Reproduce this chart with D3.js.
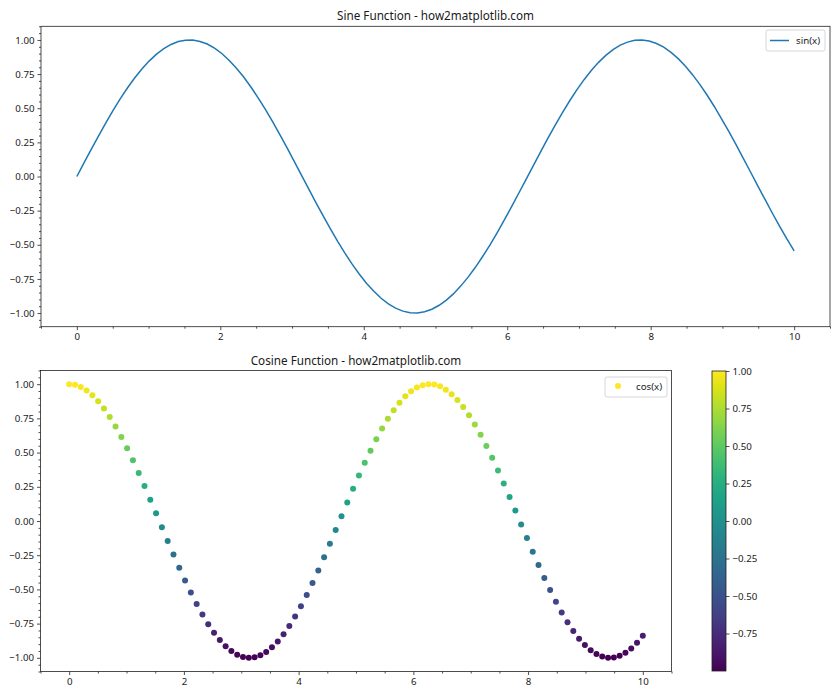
<!DOCTYPE html>
<html><head><meta charset="utf-8">
<script src="https://cdn.jsdelivr.net/npm/d3@7"></script>
<style>body{margin:0;background:#fff}svg{display:block}text{font-family:"Noto Sans","Open Sans",sans-serif;fill:#1a1a1a}</style>
</head><body><svg id="c" width="840" height="700"></svg>
<script>
const xValues = [0,0.101,0.202,0.303,0.404,0.505,0.606,0.707,0.808,0.909,1.010,1.111,1.212,1.313,1.414,1.515,1.616,1.717,1.818,1.919,2.020,2.121,2.222,2.323,2.424,2.525,2.626,2.727,2.828,2.929,3.030,3.131,3.232,3.333,3.434,3.535,3.636,3.737,3.838,3.939,4.040,4.141,4.242,4.343,4.444,4.545,4.646,4.747,4.848,4.949,5.051,5.152,5.253,5.354,5.455,5.556,5.657,5.758,5.859,5.960,6.061,6.162,6.263,6.364,6.465,6.566,6.667,6.768,6.869,6.970,7.071,7.172,7.273,7.374,7.475,7.576,7.677,7.778,7.879,7.980,8.081,8.182,8.283,8.384,8.485,8.586,8.687,8.788,8.889,8.990,9.091,9.192,9.293,9.394,9.495,9.596,9.697,9.798,9.899,10.0];
const sinValues = [0.000,0.101,0.201,0.298,0.393,0.484,0.570,0.650,0.723,0.789,0.847,0.896,0.936,0.967,0.988,0.998,0.999,0.989,0.970,0.940,0.901,0.852,0.795,0.730,0.657,0.578,0.493,0.403,0.308,0.211,0.111,0.010,-0.091,-0.191,-0.289,-0.384,-0.475,-0.561,-0.642,-0.716,-0.783,-0.841,-0.892,-0.933,-0.964,-0.986,-0.998,-0.999,-0.991,-0.972,-0.943,-0.905,-0.858,-0.801,-0.737,-0.665,-0.586,-0.502,-0.412,-0.318,-0.221,-0.121,-0.021,0.080,0.180,0.279,0.374,0.466,0.553,0.634,0.709,0.776,0.836,0.887,0.929,0.962,0.984,0.997,1.000,0.992,0.974,0.947,0.909,0.863,0.808,0.744,0.673,0.595,0.511,0.421,0.328,0.231,0.131,0.031,-0.070,-0.170,-0.269,-0.365,-0.457,-0.544];
const cosValues = [1.000,0.995,0.980,0.954,0.919,0.875,0.822,0.760,0.691,0.614,0.532,0.444,0.351,0.255,0.156,0.056,-0.045,-0.146,-0.245,-0.341,-0.434,-0.523,-0.606,-0.683,-0.754,-0.816,-0.870,-0.915,-0.951,-0.978,-0.994,-0.9999,-0.996,-0.982,-0.957,-0.923,-0.880,-0.828,-0.767,-0.698,-0.623,-0.540,-0.453,-0.361,-0.265,-0.166,-0.066,0.035,0.136,0.235,0.332,0.425,0.514,0.598,0.676,0.747,0.810,0.865,0.911,0.948,0.975,0.993,0.9998,0.997,0.984,0.960,0.927,0.885,0.833,0.773,0.706,0.631,0.549,0.462,0.370,0.275,0.176,0.076,-0.025,-0.125,-0.225,-0.322,-0.416,-0.505,-0.590,-0.668,-0.740,-0.804,-0.860,-0.907,-0.945,-0.973,-0.991,-0.9995,-0.998,-0.985,-0.963,-0.931,-0.890,-0.839];
const xTicks = [0,2,4,6,8,10];
const yTicks = [-1.00,-0.75,-0.50,-0.25,0.00,0.25,0.50,0.75,1.00];
const cbTicks = [-1.00,-0.75,-0.50,-0.25,0.00,0.25,0.50,0.75,1.00];
const titles = ["Sine Function - how2matplotlib.com","Cosine Function - how2matplotlib.com"];
const legendLabels = ["sin(x)","cos(x)"];

const svg = d3.select("#c");
const FS = 9.7;
const fmt = d3.format(".2f");
const fmtY = v => fmt(v).replace("-", "-");

function drawAxes(box, title){
  const x = d3.scaleLinear().domain([-0.5,10.5]).range([box.l, box.r]);
  const y = d3.scaleLinear().domain([-1.1,1.1]).range([box.b, box.t]);
  const g = svg.append("g");
  // x axis
  const xa = g.append("g").attr("transform",`translate(0,${box.b})`)
    .call(d3.axisBottom(x).tickValues(xTicks).tickFormat(d3.format("d")).tickSizeInner(3.5).tickSizeOuter(0).tickPadding(3));
  const xm = g.append("g").attr("transform",`translate(0,${box.b})`)
    .call(d3.axisBottom(x).tickValues(d3.range(-0.5,10.51,0.5).filter(v=>Math.abs(v%2)>1e-6)).tickFormat("").tickSizeInner(2).tickSizeOuter(0));
  const ya = g.append("g").attr("transform",`translate(${box.l},0)`)
    .call(d3.axisLeft(y).tickValues(yTicks).tickFormat(fmtY).tickSizeInner(3.5).tickSizeOuter(0).tickPadding(3));
  const ym = g.append("g").attr("transform",`translate(${box.l},0)`)
    .call(d3.axisLeft(y).tickValues(d3.range(-1.1,1.1001,0.05).filter(v=>Math.abs(Math.round(v*100)%25)!==0)).tickFormat("").tickSizeInner(2).tickSizeOuter(0));
  [xa,xm,ya,ym].forEach(a=>{a.select(".domain").remove();a.selectAll("line").attr("stroke","#222").attr("stroke-width",0.8);
    a.selectAll("text").attr("font-size",FS).attr("fill","#1a1a1a").style("font-family","'Noto Sans','Open Sans',sans-serif");});
  g.append("rect").attr("x",box.l).attr("y",box.t).attr("width",box.r-box.l).attr("height",box.b-box.t)
    .attr("fill","none").attr("stroke","#222").attr("stroke-width",0.8);
  g.append("text").attr("x",(box.l+box.r)/2).attr("y",box.t-6).attr("text-anchor","middle").attr("font-size",11.7).text(title);
  return {x,y,g};
}

// top
const A = drawAxes({l:41,r:830,t:26.3,b:326.7}, titles[0]);
const pts = xValues.map((v,i)=>[v,sinValues[i]]);
svg.append("path").datum(pts).attr("fill","none").attr("stroke","#1f77b4").attr("stroke-width",1.5)
  .attr("d", d3.line().x(d=>A.x(d[0])).y(d=>A.y(d[1])));
// legend top
const lg1 = svg.append("g");
lg1.append("rect").attr("x",766).attr("y",30).attr("width",59).attr("height",21).attr("rx",2)
  .attr("fill","#fff").attr("fill-opacity",0.8).attr("stroke","#ccc").attr("stroke-width",0.8);
lg1.append("line").attr("x1",770).attr("x2",789).attr("y1",40.5).attr("y2",40.5).attr("stroke","#1f77b4").attr("stroke-width",1.5);
lg1.append("text").attr("x",796).attr("y",44).attr("font-size",FS).text(legendLabels[0]);

// bottom
const B = drawAxes({l:40.5,r:671.5,t:370.5,b:671.5}, titles[1]);
const ext = d3.extent(cosValues);
const color = d3.scaleSequential(d3.interpolateViridis).domain(ext);
svg.append("g").selectAll("circle").data(xValues.map((v,i)=>[v,cosValues[i]])).join("circle")
  .attr("cx",d=>B.x(d[0])).attr("cy",d=>B.y(d[1])).attr("r",3).attr("fill",d=>color(d[1]));
const lg2 = svg.append("g");
lg2.append("rect").attr("x",605).attr("y",377).attr("width",62).attr("height",20).attr("rx",2)
  .attr("fill","#fff").attr("fill-opacity",0.8).attr("stroke","#ccc").attr("stroke-width",0.8);
lg2.append("circle").attr("cx",618).attr("cy",386).attr("r",3).attr("fill",color(ext[1]));
lg2.append("text").attr("x",636).attr("y",390).attr("font-size",FS).text(legendLabels[1]);

// colorbar
const cb = {l:712,r:726,t:371,b:671};
const defs = svg.append("defs");
const grad = defs.append("linearGradient").attr("id","vir").attr("x1",0).attr("y1",1).attr("x2",0).attr("y2",0);
d3.range(0,1.0001,0.02).forEach(t=>grad.append("stop").attr("offset",t).attr("stop-color",d3.interpolateViridis(t)));
svg.append("rect").attr("x",cb.l).attr("y",cb.t).attr("width",cb.r-cb.l).attr("height",cb.b-cb.t).attr("fill","url(#vir)")
  .attr("stroke","#222").attr("stroke-width",0.8);
const cy = d3.scaleLinear().domain(ext).range([cb.b,cb.t]);
const ca = svg.append("g").attr("transform",`translate(${cb.r},0)`)
  .call(d3.axisRight(cy).tickValues(cbTicks.filter(v=>v>=ext[0]&&v<=ext[1])).tickFormat(fmtY).tickSizeInner(3.5).tickSizeOuter(0).tickPadding(3));
ca.select(".domain").remove();
ca.selectAll("line").attr("stroke","#222").attr("stroke-width",0.8);
ca.selectAll("text").attr("font-size",FS).attr("fill","#1a1a1a").style("font-family","'Noto Sans','Open Sans',sans-serif");
</script></body></html>
